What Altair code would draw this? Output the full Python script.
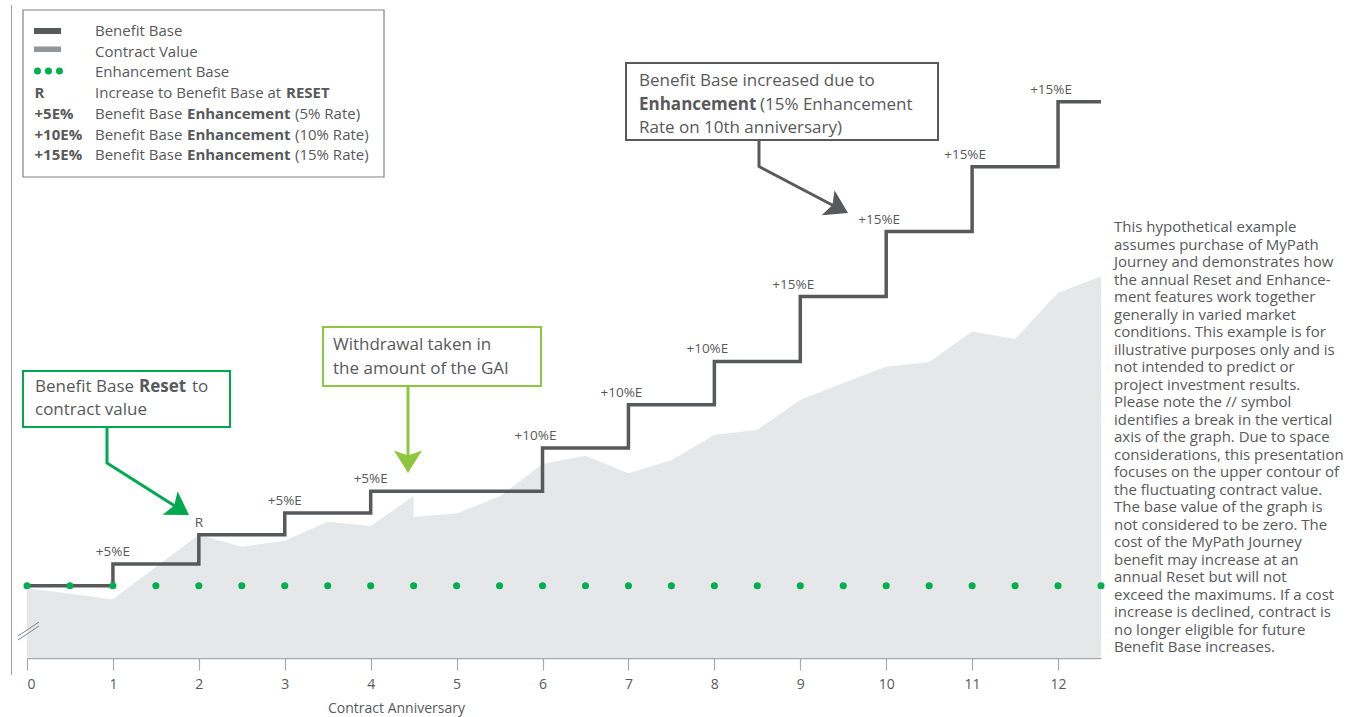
import math
import altair as alt
import pandas as pd

# ---------------------------------------------------------------- data
# Benefit Base: value after each contract anniversary (last point closes the final step)
step_years = [0, 1, 2, 3, 4, 5, 6, 7, 8, 9, 10, 11, 12, 12.5]
benefit_base = [100, 105, 111.8, 116.8, 121.8, 121.8, 131.8, 141.8, 151.8,
                166.8, 181.8, 196.8, 211.8, 211.8]

# Contract value (upper contour); the repeated 4.5 is the GAI withdrawal drop
cv_years = [0, 1, 2, 2.5, 3, 3.5, 4, 4.5, 4.5, 5, 5.5, 6, 6.5, 7, 7.5, 8, 8.5,
            9, 9.5, 10, 10.5, 11, 11.5, 12, 12.5]
cv_values = [99.4, 96.9, 111.8, 109.0, 110.4, 114.8, 113.8, 120.7, 115.9, 116.7,
             120.6, 128.1, 130.0, 126.0, 129.0, 134.8, 136.0, 142.9, 146.8, 150.6,
             151.7, 158.7, 157.0, 167.7, 171.5]

# Enhancement Base, marked every half year
eb_years = [0, 0.5, 1, 1.5, 2, 2.5, 3, 3.5, 4, 4.5, 5, 5.5, 6, 6.5, 7, 7.5, 8,
            8.5, 9, 9.5, 10, 10.5, 11, 11.5, 12, 12.5]
eb_values = [100, 100, 100, 100, 100, 100, 100, 100, 100, 100, 100, 100, 100,
             100, 100, 100, 100, 100, 100, 100, 100, 100, 100, 100, 100, 100]

# Step annotations
label_years = [1, 2, 3, 4, 6, 7, 8, 9, 10, 11, 12]
label_text = ["+5%E", "R", "+5%E", "+5%E", "+10%E", "+10%E", "+10%E",
              "+15%E", "+15%E", "+15%E", "+15%E"]

tick_years = [0, 1, 2, 3, 4, 5, 6, 7, 8, 9, 10, 11, 12]

note_lines = [
    "This hypothetical example",
    "assumes purchase of MyPath",
    "Journey and demonstrates how",
    "the annual Reset and Enhance-",
    "ment features work together",
    "generally in varied market",
    "conditions. This example is for",
    "illustrative purposes only and is",
    "not intended to predict or",
    "project investment results.",
    "Please note the // symbol",
    "identifies a break in the vertical",
    "axis of the graph. Due to space",
    "considerations, this presentation",
    "focuses on the upper contour of",
    "the fluctuating contract value.",
    "The base value of the graph is",
    "not considered to be zero. The",
    "cost of the MyPath Journey",
    "benefit may increase at an",
    "annual Reset but will not",
    "exceed the maximums. If a cost",
    "increase is declined, contract is",
    "no longer eligible for future",
    "Benefit Base increases.",
]

# ---------------------------------------------------------------- styling
FONT = "Open Sans"
TEXT = "#58595b"
DARK = "#58595b"
AREA = "#e6e7e8"
GREEN = "#00a84f"
DOT = "#00b050"
LIME = "#8dc63f"

LEFT, TOP, RIGHT, BOTTOM = 27, 0, 260, 59
W, H = 1074, 658
Y_MIN, Y_MAX = 83.3, 235.3

step_df = pd.DataFrame({"year": step_years, "value": benefit_base})
cv_df = pd.DataFrame({"year": cv_years, "value": cv_values})
cv_df["floor"] = Y_MIN
eb_df = pd.DataFrame({"year": eb_years, "value": eb_values})
bb_lookup = dict(zip(step_years, benefit_base))
lab_df = pd.DataFrame({"year": label_years, "text": label_text,
                       "value": [bb_lookup[y] for y in label_years]})
lab_df["wide"] = lab_df["text"].str.len() > 4

x_scale = alt.Scale(domain=[0, 12.5], nice=False, zero=False)
y_scale = alt.Scale(domain=[Y_MIN, Y_MAX], nice=False, zero=False)

x_enc = alt.X("year:Q", scale=x_scale,
              axis=alt.Axis(values=tick_years, title="Contract Anniversary",
                            grid=False, tickSize=12, tickColor="#a7a9ac",
                            domainColor="#a7a9ac", domainWidth=1.5, tickWidth=1.2,
                            labelFontSize=14, labelColor=TEXT, labelPadding=7,
                            labelFont=FONT, titleFont=FONT, titleFontSize=14,
                            titleFontWeight="normal", titleColor=TEXT,
                            titleX=369, titleY=50, titleBaseline="middle",
                            titleAlign="center"))
y_enc = alt.Y("value:Q", scale=y_scale, axis=None, stack=None)

area = alt.Chart(cv_df).mark_area(color=AREA, opacity=1, interpolate="linear").encode(
    x=x_enc, y=y_enc, y2="floor:Q")

steps = alt.Chart(step_df).mark_line(
    interpolate="step-after", color=DARK, strokeWidth=3.5,
    strokeJoin="miter", strokeCap="butt").encode(x=x_enc, y=y_enc)

dots = alt.Chart(eb_df).mark_circle(color=DOT, size=50, opacity=1).encode(
    x=x_enc, y=y_enc)

labels_narrow = alt.Chart(lab_df).transform_filter("!datum.wide").mark_text(
    font=FONT, fontSize=13.5, color=TEXT, baseline="bottom", dy=-5, align="center"
).encode(x=x_enc, y=y_enc, text="text:N")
labels_wide = alt.Chart(lab_df).transform_filter("datum.wide").mark_text(
    font=FONT, fontSize=13.5, color=TEXT, baseline="bottom", dy=-5, dx=-7, align="center"
).encode(x=x_enc, y=y_enc, text="text:N")

# ---------------------------------------------------------------- decorations
one = pd.DataFrame({"k": [0]})


def txt(x, y, s, size=15, bold=False, color=TEXT, align="left", baseline="middle"):
    return alt.Chart(one).mark_text(
        text=s, font=FONT, fontSize=size, fontWeight="bold" if bold else "normal",
        color=color, align=align, baseline=baseline
    ).encode(x=alt.value(x - LEFT), y=alt.value(y - TOP))


def seg(x1, y1, x2, y2, color, width=3):
    return alt.Chart(one).mark_rule(color=color, strokeWidth=width, strokeCap="butt").encode(
        x=alt.value(x1 - LEFT), y=alt.value(y1 - TOP),
        x2=alt.value(x2 - LEFT), y2=alt.value(y2 - TOP))


def box(x1, y1, x2, y2, color, width=2):
    return alt.Chart(one).mark_rect(fill="white", stroke=color, strokeWidth=width).encode(
        x=alt.value(x1 - LEFT), y=alt.value(y1 - TOP),
        x2=alt.value(x2 - LEFT), y2=alt.value(y2 - TOP))


ARROW = "M0,-1 L1,0.6 L0,0.25 L-1,0.6 Z"


def head(tipx, tipy, angle, color, r=14):
    a = math.radians(angle)
    cx = tipx - math.sin(a) * r
    cy = tipy + math.cos(a) * r
    return alt.Chart(one).mark_point(
        shape=ARROW, size=(2 * r) ** 2, angle=angle, filled=True,
        color=color, opacity=1, strokeWidth=0
    ).encode(x=alt.value(cx - LEFT), y=alt.value(cy - TOP))


def swatch(x1, y1, x2, y2, color):
    return alt.Chart(one).mark_rect(color=color).encode(
        x=alt.value(x1 - LEFT), y=alt.value(y1 - TOP),
        x2=alt.value(x2 - LEFT), y2=alt.value(y2 - TOP))


def dot(x, y):
    return alt.Chart(one).mark_circle(color=DOT, size=50, opacity=1).encode(
        x=alt.value(x - LEFT), y=alt.value(y - TOP))


deco = [
    # frame line on the left and the axis-break marks
    seg(11.5, 5, 11.5, 675, "#a7a9ac", 1.2),
    seg(18, 640, 39, 626, "#808285", 1),
    seg(18, 636, 39, 622, "#808285", 1),
]

legend = [
    box(23, 10, 384, 177, "#808285", 1.2),
    swatch(34, 28, 61, 34, DARK),
    txt(95, 31, "Benefit Base"),
    swatch(34, 46.5, 61, 52, "#939598"),
    txt(95, 51.5, "Contract Value"),
    dot(37.5, 71), dot(48.5, 71), dot(59.5, 71),
    txt(95, 72, "Enhancement Base"),
    txt(34.5, 92.5, "R", bold=True),
    txt(95, 92.5, "Increase to Benefit Base at"),
    txt(286, 92.5, "RESET", bold=True),
    txt(34.5, 113.5, "+5E%", bold=True),
    txt(95, 113.5, "Benefit Base"),
    txt(187, 113.5, "Enhancement", bold=True),
    txt(295, 113.5, "(5% Rate)"),
    txt(34.5, 134.5, "+10E%", bold=True),
    txt(95, 134.5, "Benefit Base"),
    txt(187, 134.5, "Enhancement", bold=True),
    txt(295, 134.5, "(10% Rate)"),
    txt(34.5, 155, "+15E%", bold=True),
    txt(95, 155, "Benefit Base"),
    txt(187, 155, "Enhancement", bold=True),
    txt(295, 155, "(15% Rate)"),
]

callouts = [
    # Reset callout
    seg(107, 427, 107, 464, GREEN),
    seg(107, 463, 178, 508, GREEN),
    head(189, 515, 122.4, GREEN),
    box(23, 371, 230, 427, GREEN),
    txt(35, 387, "Benefit Base", size=17),
    txt(139, 387, "Reset", size=17, bold=True),
    txt(192, 387, "to", size=17),
    txt(35, 410, "contract value", size=17),
    # Withdrawal callout
    seg(408, 386, 408, 462, LIME),
    head(408, 473, 180, LIME),
    box(323, 327, 541, 386, LIME),
    txt(333, 345, "Withdrawal taken in", size=17),
    txt(333, 369, "the amount of the GAI", size=17),
    # Enhancement callout
    seg(759, 140, 759, 167.5, DARK),
    seg(759, 166.5, 836, 207, DARK),
    head(848, 213, 117.3, DARK),
    box(626, 63, 938, 140, DARK),
    txt(639, 81, "Benefit Base increased due to", size=17),
    txt(639, 105, "Enhancement", size=17, bold=True),
    txt(760, 105, "(15% Enhancement", size=17),
    txt(639, 128, "Rate on 10th anniversary)", size=17),
]

note = alt.Chart(one).mark_text(
    text=note_lines, font=FONT, fontSize=15, color=TEXT, align="left",
    baseline="alphabetic", lineHeight=17.5
).encode(x=alt.value(1114 - LEFT), y=alt.value(232 - TOP))

chart = alt.layer(
    area, steps, dots, labels_narrow, labels_wide, *deco, *legend, *callouts, note
).properties(
    width=W, height=H,
    padding={"left": LEFT, "top": TOP, "right": RIGHT, "bottom": BOTTOM},
    autosize=alt.AutoSizeParams(type="none"),
    background="white",
).configure_view(stroke=None)

chart.save("out.html", embed_options={"renderer": "svg", "actions": False})
